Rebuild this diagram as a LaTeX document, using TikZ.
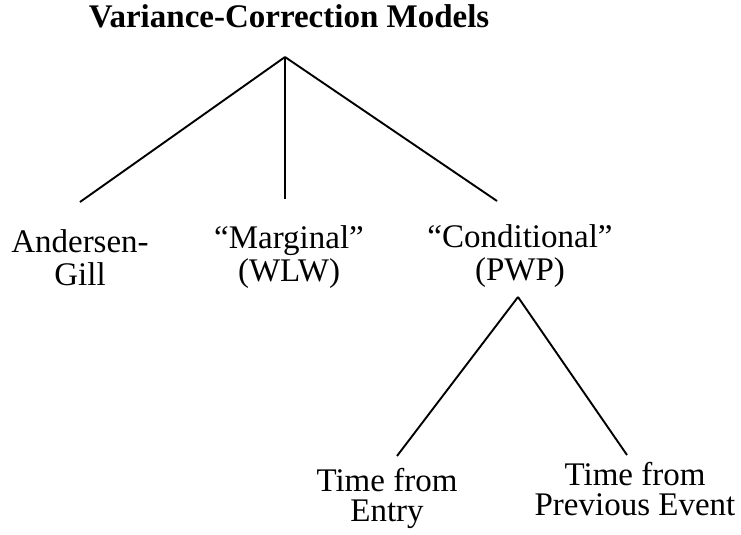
\documentclass[tikz,border=0pt]{standalone}
\usepackage{fontspec}
\setmainfont{Liberation Serif}
\begin{document}
\begin{tikzpicture}[x=1pt, y=-1pt, every node/.style={inner sep=0pt, align=center, anchor=base, font=\fontsize{33}{33}\selectfont}, branch/.style={line width=1.9pt}]
\useasboundingbox (0,0) rectangle (741,535);

% Title
\node[font=\fontsize{33}{33}\selectfont\bfseries] (title) at (289,28) {Variance-Correction Models};

% Upper tree
\coordinate (top) at (285,57);
\coordinate (agEnd) at (80,202);
\coordinate (margEnd) at (285,199);
\coordinate (condEnd) at (497,201);

\node (ag) at (80,285) {Andersen-\\Gill};
\node (marg) at (289,281) {“Marginal”\\(WLW)};
\node (cond) at (520,280) {“Conditional”\\(PWP)};

\draw[branch] (top) -- (agEnd);
\draw[branch] (top) -- (margEnd);
\draw[branch] (top) -- (condEnd);

% Lower tree
\coordinate (condTop) at (518,297);
\coordinate (entryEnd) at (397,456);
\coordinate (prevEnd) at (627,455);

\node[font=\fontsize{33}{30}\selectfont] (entry) at (387,521) {Time from\\Entry};
\node[font=\fontsize{33}{30}\selectfont] (prev) at (635,515) {Time from\\Previous Event};

\draw[branch] (condTop) -- (entryEnd);
\draw[branch] (condTop) -- (prevEnd);

\end{tikzpicture}
\end{document}
